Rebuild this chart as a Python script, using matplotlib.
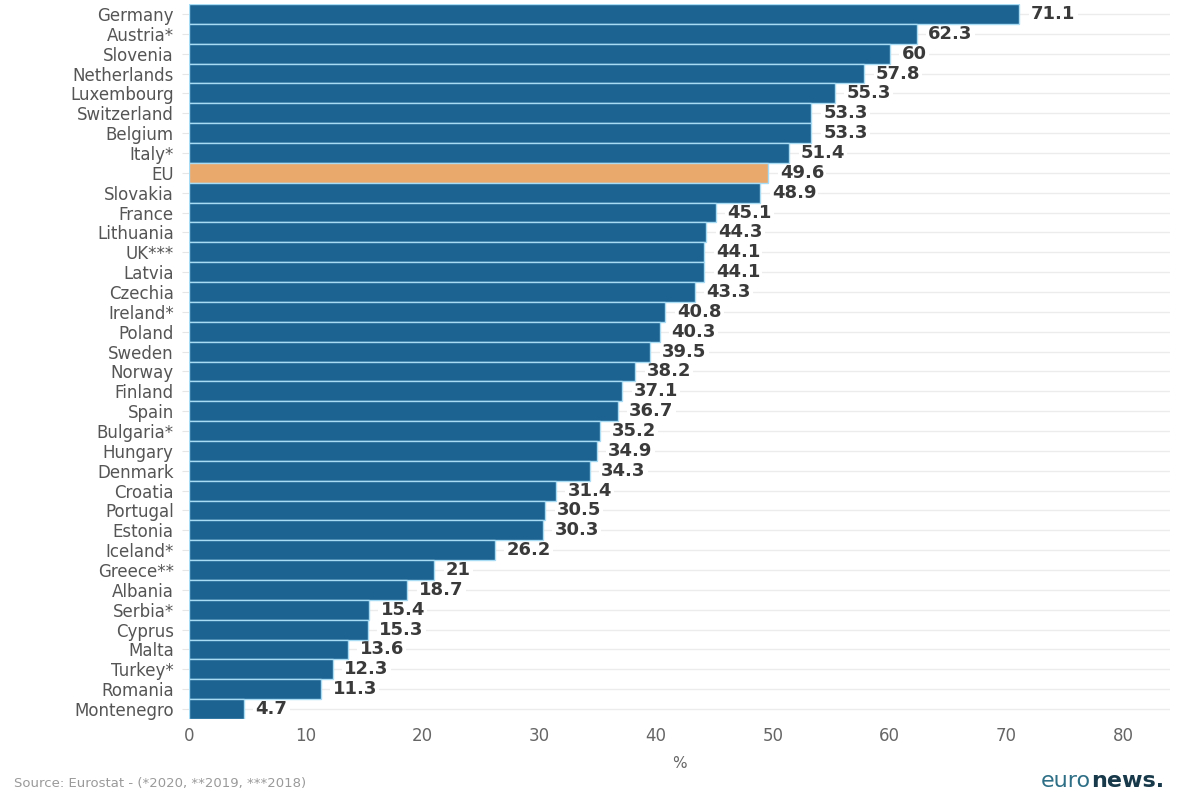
import matplotlib
matplotlib.use("Agg")
import matplotlib.pyplot as plt

countries = ["Germany", "Austria*", "Slovenia", "Netherlands", "Luxembourg", "Switzerland",
             "Belgium", "Italy*", "EU", "Slovakia", "France", "Lithuania", "UK***", "Latvia",
             "Czechia", "Ireland*", "Poland", "Sweden", "Norway", "Finland", "Spain",
             "Bulgaria*", "Hungary", "Denmark", "Croatia", "Portugal", "Estonia", "Iceland*",
             "Greece**", "Albania", "Serbia*", "Cyprus", "Malta", "Turkey*", "Romania", "Montenegro"]
values = [71.1, 62.3, 60, 57.8, 55.3, 53.3, 53.3, 51.4, 49.6, 48.9, 45.1, 44.3, 44.1, 44.1,
          43.3, 40.8, 40.3, 39.5, 38.2, 37.1, 36.7, 35.2, 34.9, 34.3, 31.4, 30.5, 30.3, 26.2,
          21, 18.7, 15.4, 15.3, 13.6, 12.3, 11.3, 4.7]
value_labels = ["71.1", "62.3", "60", "57.8", "55.3", "53.3", "53.3", "51.4", "49.6", "48.9",
                "45.1", "44.3", "44.1", "44.1", "43.3", "40.8", "40.3", "39.5", "38.2", "37.1",
                "36.7", "35.2", "34.9", "34.3", "31.4", "30.5", "30.3", "26.2", "21", "18.7",
                "15.4", "15.3", "13.6", "12.3", "11.3", "4.7"]
xticks = [0, 10, 20, 30, 40, 50, 60, 70, 80]

blue = "#1c6391"
orange = "#eaa96c"
plt.rcParams['font.family'] = ['DejaVu Sans']

fig = plt.figure(figsize=(12, 8), dpi=100)
ax = fig.add_axes([0.1575, 0.10125, 0.8175, 0.89375])

n = len(countries)
ypos = list(range(n))
colors = [orange if c == "EU" else blue for c in countries]
ax.barh(ypos, values, height=1.0, color=colors, edgecolor="#a8dcf5", linewidth=1.0, zorder=3)

for y in ypos:
    ax.axhline(y, color="#ececec", linewidth=1, zorder=1)

for y, v, lab in zip(ypos, values, value_labels):
    ax.text(v + 1.0, y, lab, va="center", ha="left", fontsize=13, fontweight="bold",
            color="#3a3a3a", zorder=2,
            bbox=dict(facecolor="white", edgecolor="none", pad=1.5))

ax.set_ylim(n - 0.5, -0.5)
ax.set_xlim(0, 84)
ax.set_yticks(ypos)
ax.set_yticklabels(countries, fontsize=12, color="#555555")
ax.set_xticks(xticks)
ax.set_xticklabels([str(t) for t in xticks], fontsize=12, color="#666666")
ax.tick_params(axis="y", length=5, color="#e6e6e6", pad=6)
ax.tick_params(axis="x", length=0, pad=6)
for s in ax.spines.values():
    s.set_visible(False)
ax.set_xlabel("%", fontsize=11, color="#666666", labelpad=8)

fig.text(0.012, 0.016, "Source: Eurostat - (*2020, **2019, ***2018)", fontsize=9.5, color="#9a9a9a")
t2 = fig.text(0.97, 0.016, "news.", fontsize=16, color="#17394a", ha="right", fontweight="bold")
fig.canvas.draw()
bb = t2.get_window_extent()
x_left = bb.x0 / fig.bbox.width
fig.text(x_left, 0.016, "euro", fontsize=16, color="#2e6f86", ha="right")

fig.savefig("out.png", dpi=100)
